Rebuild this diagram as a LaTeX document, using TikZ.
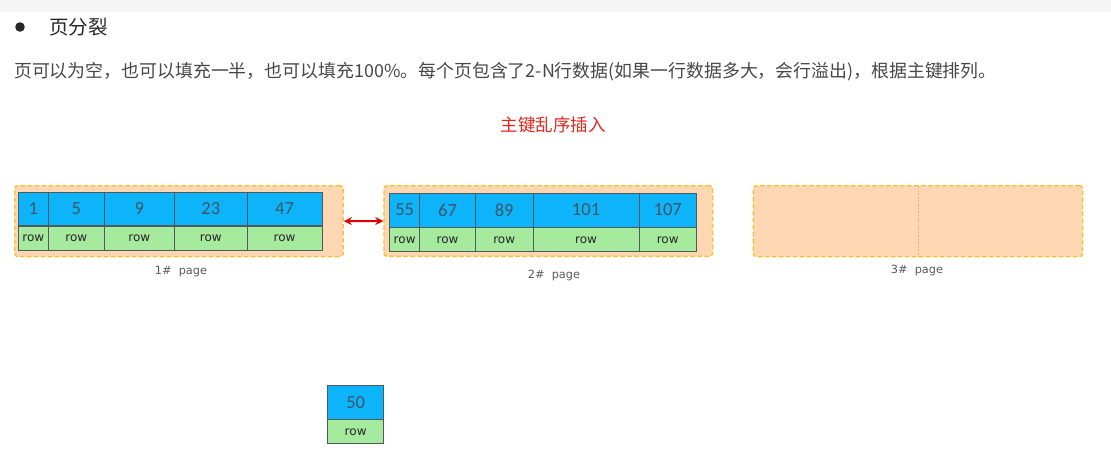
\documentclass[tikz,border=0pt]{standalone}
\usepackage{fontspec}
\newfontfamily\cjk{Noto Sans CJK SC}
\newfontfamily\calf{Carlito}
\newfontfamily\dvs{DejaVu Sans}
\usetikzlibrary{arrows.meta}
\definecolor{pagefill}{HTML}{FDD6B2}
\definecolor{pageedge}{HTML}{F8C02C}
\definecolor{keyblue}{HTML}{0DB4FA}
\definecolor{rowgreen}{HTML}{A5EA9D}
\definecolor{numgray}{HTML}{3F5569}
\definecolor{txtgray}{HTML}{474747}
\definecolor{titlegray}{HTML}{262626}
\definecolor{redtxt}{HTML}{E5261C}
\definecolor{cellline}{HTML}{4E5A5E}
\definecolor{topband}{HTML}{F5F5F5}
\definecolor{divline}{HTML}{F2AE80}
\tikzset{
  pagebox/.style={draw=pageedge, fill=pagefill, line width=1.3pt, dash pattern=on 4.5pt off 2.5pt, rounded corners=3pt, inner sep=0pt, anchor=north west},
  keycell/.style={draw=cellline, fill=keyblue, line width=0.7pt, inner sep=0pt, anchor=north west, text=numgray, font=\calf\fontsize{18.5}{18.5}\selectfont},
  rowcell/.style={draw=cellline, fill=rowgreen, line width=0.7pt, inner sep=0pt, anchor=north, text=black!85, font=\dvs\fontsize{12}{12}\selectfont},
  pagelabel/.style={text=black!65, font=\dvs\fontsize{11.3}{11.3}\selectfont, inner sep=0pt},
  linkarrow/.style={draw=red!88!black, line width=2pt, {Stealth[length=8pt,width=8pt]}-{Stealth[length=8pt,width=8pt]}},
}
% \col{id}{x}{width}{ytop}{key height}{row height}{key}
\newcommand{\col}[7]{%
  \node[keycell, minimum width=#3pt, minimum height=#5pt] (k#1) at (#2,#4) {#7};
  \node[rowcell, minimum width=#3pt, minimum height=#6pt] (r#1) at (k#1.south) {row};
}
\begin{document}
\begin{tikzpicture}[x=1pt,y=-1pt]
\useasboundingbox (0,0) rectangle (1111,460);
\fill[topband] (0,0) rectangle (1111,12);
% heading
\fill[titlegray] (20,27) circle (4.8pt);
\node[anchor=west, inner sep=0pt, text=titlegray, font=\cjk\fontsize{19.5}{19.5}\selectfont] (title) at (49,27) {页分裂};
\node[anchor=west, inner sep=0pt, text=txtgray, font=\cjk\fontsize{17.9}{17.9}\selectfont] (desc) at (14,72) {页可以为空，也可以填充一半，也可以填充100\%。每个页包含了2-N行数据(如果一行数据多大，会行溢出)，根据主键排列。};
\node[inner sep=0pt, text=redtxt, font=\cjk\fontsize{17.5}{17.5}\selectfont] (hint) at (553,125) {主键乱序插入};
% pages
\node[pagebox, minimum width=328.5pt, minimum height=71pt] (p1) at (14,185) {};
\node[pagebox, minimum width=328.7pt, minimum height=70.7pt] (p2) at (383.3,185) {};
\node[pagebox, minimum width=329.3pt, minimum height=71pt] (p3) at (752.7,185) {};
\draw[divline, line width=0.8pt, dash pattern=on 2pt off 1.5pt] ([yshift=-1pt]p3.north) -- ([yshift=1pt]p3.south);
% page 1 records
\col{a1}{18}{30}{191.5}{33.5}{24}{1}
\col{a2}{48}{56}{191.5}{33.5}{24}{5}
\col{a3}{104}{70}{191.5}{33.5}{24}{9}
\col{a4}{174}{73}{191.5}{33.5}{24}{23}
\col{a5}{247}{74.5}{191.5}{33.5}{24}{47}
% page 2 records
\col{b1}{389.3}{30}{192.7}{34}{24}{55}
\col{b2}{419.3}{55.7}{192.7}{34}{24}{67}
\col{b3}{475}{57.7}{192.7}{34}{24}{89}
\col{b4}{532.7}{106}{192.7}{34}{24}{101}
\col{b5}{638.7}{57.3}{192.7}{34}{24}{107}
% new record
\col{n}{327.3}{56}{385}{33.7}{24}{50}
% link between pages
\draw[linkarrow] (p1.east) -- (p2.west);
% page labels
\node[pagelabel] (l1) at (181,271.5) {1\#\ \ page};
\node[pagelabel] (l2) at (554,275.5) {2\#\ \ page};
\node[pagelabel] (l3) at (917,270.5) {3\#\ \ page};
\end{tikzpicture}
\end{document}
